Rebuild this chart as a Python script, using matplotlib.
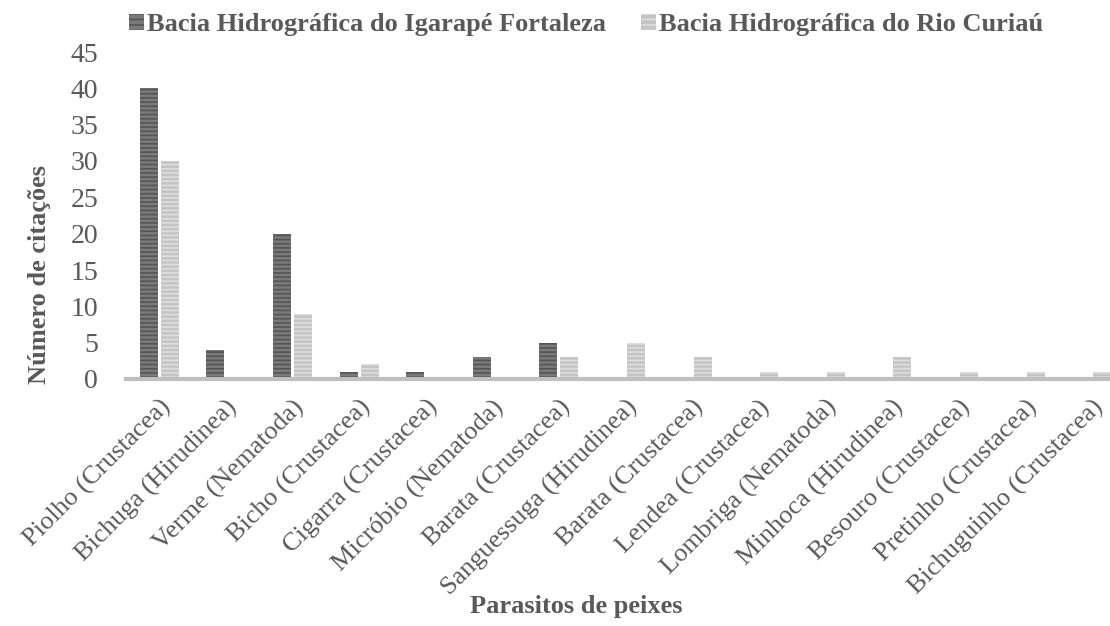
import numpy as np
import matplotlib.pyplot as plt
from matplotlib.patches import Patch

plt.rcParams['font.family'] = ['Liberation Serif', 'DejaVu Serif']
plt.rcParams['hatch.linewidth'] = 1.2

# parasite names (x axis)
categories = ['Piolho (Crustacea)', 'Bichuga (Hirudinea)', 'Verme (Nematoda)',
              'Bicho (Crustacea)', 'Cigarra (Crustacea)', 'Micróbio (Nematoda)',
              'Barata (Crustacea)', 'Sanguessuga (Hirudinea)', 'Barata (Crustacea)',
              'Lendea (Crustacea)', 'Lombriga (Nematoda)', 'Minhoca (Hirudinea)',
              'Besouro (Crustacea)', 'Pretinho (Crustacea)', 'Bichuguinho (Crustacea)']
fortaleza = [40, 4, 20, 1, 1, 3, 5, 0, 0, 0, 0, 0, 0, 0, 0]
curiau = [30, 0, 9, 2, 0, 0, 3, 5, 3, 1, 1, 3, 1, 1, 1]
series_names = ['Bacia Hidrográfica do Igarapé Fortaleza', 'Bacia Hidrográfica do Rio Curiaú']

txt = '#595959'
dark_fill, dark_hatch = '#7a7a7a', '#555555'
light_fill, light_hatch = '#c4c4c4', '#dedede'

fig = plt.figure(figsize=(11.1, 6.26), dpi=100)
# plot area runs a bit past the right edge (the original is cropped there)
ax = fig.add_axes([126 / 1110, 1 - 379 / 626, 999 / 1110, 327 / 626])

x = np.arange(len(categories))
w = 0.27
off = 0.158
ax.bar(x - off, fortaleza, w, color=dark_fill, edgecolor=dark_hatch, hatch='----', linewidth=0)
ax.bar(x + off, curiau, w, color=light_fill, edgecolor=light_hatch, hatch='----', linewidth=0)

ax.set_xlim(-0.5, len(categories) - 0.5)
ax.set_ylim(0, 45)
ax.set_yticks(range(0, 46, 5))
ax.set_xticks(x)
ax.set_xticklabels(categories, rotation=45, ha='right', rotation_mode='anchor', fontsize=19, color=txt)
ax.tick_params(axis='y', length=0, labelsize=20, labelcolor=txt, pad=20)
ax.tick_params(axis='x', length=0, pad=12)

for s in ['top', 'right', 'left']:
    ax.spines[s].set_visible(False)
ax.spines['bottom'].set_color('#bfbfbf')
ax.spines['bottom'].set_linewidth(3)

fig.text(40 / 1110, 1 - 275 / 626, 'Número de citações', rotation=90, ha='center', va='center',
         fontsize=19, fontweight='bold', color=txt)
fig.text(576 / 1110, 1 - 606 / 626, 'Parasitos de peixes', ha='center', va='center',
         fontsize=19, fontweight='bold', color=txt)

handles = [Patch(facecolor=dark_fill, edgecolor=dark_hatch, hatch='---', linewidth=0),
           Patch(facecolor=light_fill, edgecolor=light_hatch, hatch='---', linewidth=0)]
leg = fig.legend(handles, series_names, loc='center', bbox_to_anchor=(586 / 1110, 1 - 25 / 626),
                 ncol=2, frameon=False, handlelength=0.57, handleheight=0.57, handletextpad=0.12,
                 columnspacing=1.3, borderpad=0, prop={'size': 19, 'weight': 'bold'})
for t in leg.get_texts():
    t.set_color(txt)

fig.savefig('out.png', dpi=100)
